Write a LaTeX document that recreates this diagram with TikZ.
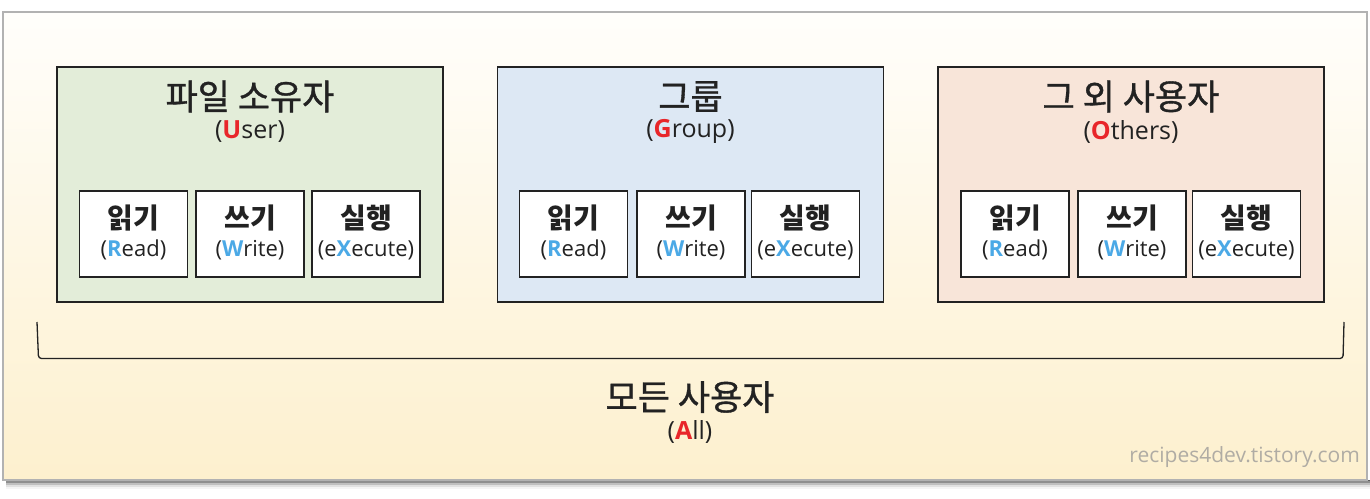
\documentclass[tikz,border=0pt]{standalone}
\usepackage{fontspec}
\setmainfont{Noto Sans CJK KR}
\newfontfamily\latn{Open Sans}
\usetikzlibrary{calc}
\definecolor{bgtop}{HTML}{FFFEFB}
\definecolor{bgbot}{HTML}{FDF0CE}
\definecolor{ugreen}{HTML}{E3EDD9}
\definecolor{gblue}{HTML}{DDE8F4}
\definecolor{opeach}{HTML}{F8E5D9}
\definecolor{kred}{HTML}{E8262A}
\definecolor{kblue}{HTML}{4BA9E6}
\definecolor{ink}{HTML}{222222}
\definecolor{wm}{HTML}{B0ACA4}
\tikzset{
  grpbox/.style={draw=ink, line width=1.3pt, minimum width=386, minimum height=235, inner sep=0},
  permbox/.style={draw=ink, fill=white, line width=1.3pt, minimum width=108, minimum height=86, inner sep=0},
  bigtitle/.style={font=\fontsize{35}{38}\selectfont\addfontfeature{FakeBold=1}, text=ink, inner sep=0},
  bigsub/.style={font=\latn\fontsize{25}{28}\selectfont, text=ink, inner sep=0},
  ptitle/.style={font=\fontsize{28}{31}\selectfont\bfseries, text=ink, inner sep=0},
  psub/.style={font=\latn\fontsize{22}{25}\selectfont, text=ink, inner sep=0},
}
\newcommand{\rl}[1]{{\color{kred}\bfseries #1}}
\newcommand{\bl}[1]{{\color{kblue}\bfseries #1}}
\begin{document}
\begin{tikzpicture}[x=1pt,y=-1pt]
\useasboundingbox (0,0) rectangle (1370,498);
\fill[white] (0,0) rectangle (1370,498);
% shadow
\foreach \d/\o in {1/0.35,3/0.25,5/0.15,7/0.08,9/0.04}{
  \fill[black,opacity=\o] (6,480) rectangle (1370,480+\d);
}
\shade[top color=bgtop, bottom color=bgbot] (3,12) rectangle (1367,480);
\draw[color=black!30, line width=1.5pt] (3,12) rectangle (1367,480);

% group boxes
\node[grpbox, fill=ugreen] (user) at (250,184.5) {};
\node[grpbox, fill=gblue] (group) at (690.5,184.5) {};
\node[grpbox, fill=opeach] (other) at (1131,184.5) {};

\foreach \g/\t/\s in {user/{파일 소유자}/{(\rl{U}ser)}, group/{그룹}/{(\rl{G}roup)}, other/{그 외 사용자}/{(\rl{O}thers)}}{
  \node[bigtitle] (\g-t) at ($(\g.center)+(0,-88)$) {\t};
  \node[bigsub] (\g-s) at ($(\g.center)+(0,-53)$) {\s};
}

% permission boxes
\foreach \g/\xr/\xw/\xx in {user/133.5/250/366, group/573.5/691/805.5, other/1015/1132/1246.5}{
  \node[permbox] (\g-r) at (\xr,234) {};
  \node[permbox] (\g-w) at (\xw,234) {};
  \node[permbox] (\g-x) at (\xx,234) {};
  \node[ptitle] at ($(\g-r.center)+(0,-16)$) {읽기};
  \node[psub] at ($(\g-r.center)+(0,16)$) {(\bl{R}ead)};
  \node[ptitle] at ($(\g-w.center)+(0,-16)$) {쓰기};
  \node[psub] at ($(\g-w.center)+(0,16)$) {(\bl{W}rite)};
  \node[ptitle] at ($(\g-x.center)+(0,-16)$) {실행};
  \node[psub] at ($(\g-x.center)+(0,16)$) {(e\bl{X}ecute)};
}

% bracket
\coordinate (bl) at (37,322);
\coordinate (br) at (1344,322);
\draw[ink, line width=1.3pt, rounded corners=3pt] (bl) -- (38.5,358.5) -- (1343,358.5) -- (br);

\node[bigtitle] (all-t) at (690,397) {모든 사용자};
\node[bigsub] (all-s) at (690,432) {(\rl{A}ll)};

\node[anchor=east, text=wm, font=\latn\fontsize{21}{23}\selectfont, inner sep=0] (wmk) at (1360,457) {recipes4dev.tistory.com};
\end{tikzpicture}
\end{document}
